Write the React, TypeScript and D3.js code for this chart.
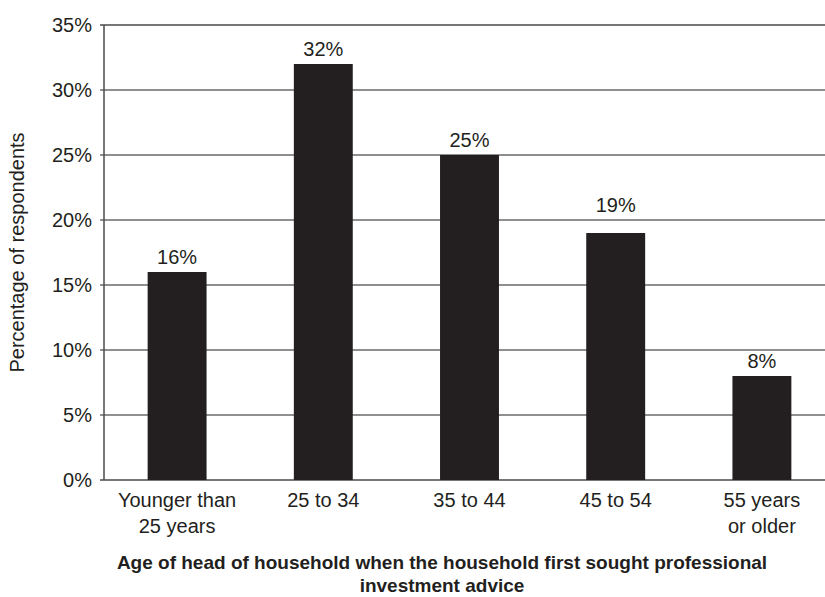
import React from "react";
import * as d3 from "d3";

const categories: string[][] = [
  ["Younger than", "25 years"],
  ["25 to 34"],
  ["35 to 44"],
  ["45 to 54"],
  ["55 years", "or older"],
];
const values: number[] = [16, 32, 25, 19, 8];
const yTicks: number[] = [0, 5, 10, 15, 20, 25, 30, 35];
const yLabel = "Percentage of respondents";
const xTitle: string[] = [
  "Age of head of household when the household first sought professional",
  "investment advice",
];

const W = 825;
const H = 597;
const left = 104;
const right = 835;
const top = 25;
const bottom = 480;
const ink = "#231f20";
const font = "'Liberation Sans', Arial, Helvetica, sans-serif";

export default function App() {
  const x = d3
    .scaleBand<number>()
    .domain(values.map((_, i) => i))
    .range([left, right])
    .paddingInner(0.597)
    .paddingOuter(0.2985);
  const y = d3.scaleLinear().domain([0, 35]).range([bottom, top]);

  const labelY = (v: number) => {
    let b = y(v) - 8;
    for (const t of yTicks) {
      const g = y(t);
      if (g > b - 16 && g < b + 3) b = g - 8;
    }
    return b;
  };

  return (
    <svg
      width={W}
      height={H}
      style={{ position: "absolute", left: 0, top: 0, background: "#fff" }}
      fontFamily={font}
    >
      {yTicks.map((t) => (
        <g key={t}>
          <line
            x1={left - 4}
            x2={W}
            y1={y(t)}
            y2={y(t)}
            stroke={t === 35 || t === 0 ? "#4a4a4a" : "#6a6a6a"}
            strokeWidth={1.3}
          />
          <text
            x={92}
            y={y(t)}
            dy="0.35em"
            textAnchor="end"
            fontSize={20}
            fill={ink}
          >
            {t}%
          </text>
        </g>
      ))}
      <line x1={left} x2={left} y1={top} y2={bottom} stroke="#4a4a4a" strokeWidth={1.5} />
      {values.map((v, i) => (
        <g key={i}>
          <rect
            x={x(i)}
            y={y(v)}
            width={x.bandwidth()}
            height={bottom - y(v)}
            fill={ink}
          />
          <text
            x={(x(i) as number) + x.bandwidth() / 2}
            y={labelY(v)}
            textAnchor="middle"
            fontSize={20}
            fill={ink}
          >
            {v}%
          </text>
          {categories[i].map((line, j) => (
            <text
              key={j}
              x={(x(i) as number) + x.bandwidth() / 2}
              y={507 + j * 26}
              textAnchor="middle"
              fontSize={20}
              fill={ink}
            >
              {line}
            </text>
          ))}
        </g>
      ))}
      <text
        transform={`translate(24, ${(top + bottom) / 2}) rotate(-90)`}
        textAnchor="middle"
        fontSize={20}
        fill={ink}
      >
        {yLabel}
      </text>
      {xTitle.map((line, j) => (
        <text
          key={j}
          x={442}
          y={569 + j * 23}
          textAnchor="middle"
          fontSize={19}
          fontWeight="bold"
          fill={ink}
        >
          {line}
        </text>
      ))}
    </svg>
  );
}
